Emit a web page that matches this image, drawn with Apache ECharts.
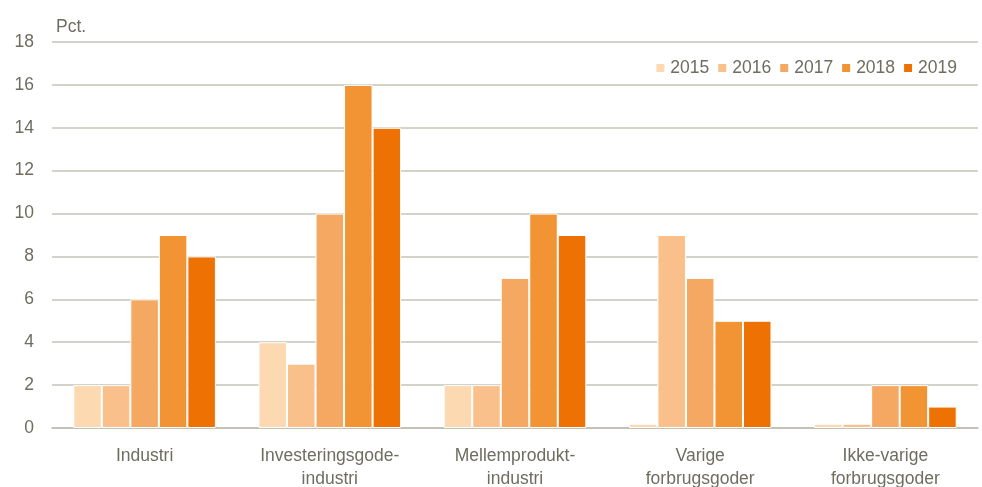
<!DOCTYPE html>
<html>
<head>
<meta charset="utf-8">
<script src="https://cdn.jsdelivr.net/npm/echarts@6/dist/echarts.min.js"></script>
<style>
html, body { margin: 0; padding: 0; background: #fff; }
#main { width: 982px; height: 487px; }
</style>
</head>
<body>
<div id="main"></div>
<script>
// kategorier og værdier (pct.)
var categories = ['Industri', 'Investeringsgode-\nindustri', 'Mellemprodukt-\nindustri', 'Varige\nforbrugsgoder', 'Ikke-varige\nforbrugsgoder'];
var years = ['2015', '2016', '2017', '2018', '2019'];
var v2015 = [2, 4, 2, 0.2, 0.2];
var v2016 = [2, 3, 2, 9, 0.2];
var v2017 = [6, 10, 7, 7, 2];
var v2018 = [9, 16, 10, 5, 2];
var v2019 = [8, 14, 9, 5, 1];
var colors = ['#FDD9B1', '#F9C08B', '#F5A862', '#F29433', '#EE7203'];

var values = [v2015, v2016, v2017, v2018, v2019];
var font = '"Liberation Sans", Arial, sans-serif';
var textColor = '#6E6D60';
var fs = 17.5;

var myChart = echarts.init(document.getElementById('main'));
var series = [];
years.forEach(function (y, i) {
    series.push({
        name: y,
        type: 'bar',
        data: values[i],
        barGap: '0%',
        barCategoryGap: '23%',
        itemStyle: { color: colors[i], borderColor: '#fff', borderWidth: 1 }
    });
});

var option = {
    animation: false,
    color: colors,
    textStyle: { fontFamily: font },
    grid: { left: 52, right: 4, top: 42, bottom: 59, outerBoundsMode: 'none', containLabel: false },
    legend: {
        data: years,
        right: 20,
        top: 54,
        itemWidth: 10,
        itemHeight: 10,
        itemGap: 7,
        icon: 'rect',
        textStyle: { fontSize: fs, color: textColor, fontFamily: font }
    },
    xAxis: {
        type: 'category',
        data: categories,
        axisTick: { show: false },
        axisLine: { lineStyle: { color: '#BDBBAE', width: 1.5 } },
        axisLabel: { fontSize: fs, color: textColor, lineHeight: 23, margin: 17, fontFamily: font }
    },
    yAxis: {
        type: 'value',
        min: 0,
        max: 18,
        interval: 2,
        name: 'Pct.',
        nameLocation: 'end',
        nameGap: 6,
        nameTextStyle: { fontSize: fs, color: textColor, align: 'left', padding: [0, 0, 0, 4], fontFamily: font },
        axisLine: { show: false },
        axisTick: { show: false },
        axisLabel: { fontSize: fs, color: textColor, margin: 18, fontFamily: font },
        splitLine: { lineStyle: { color: '#C6C4B8', width: 1.5 } }
    },
    series: series
};
myChart.setOption(option);
</script>
</body>
</html>
